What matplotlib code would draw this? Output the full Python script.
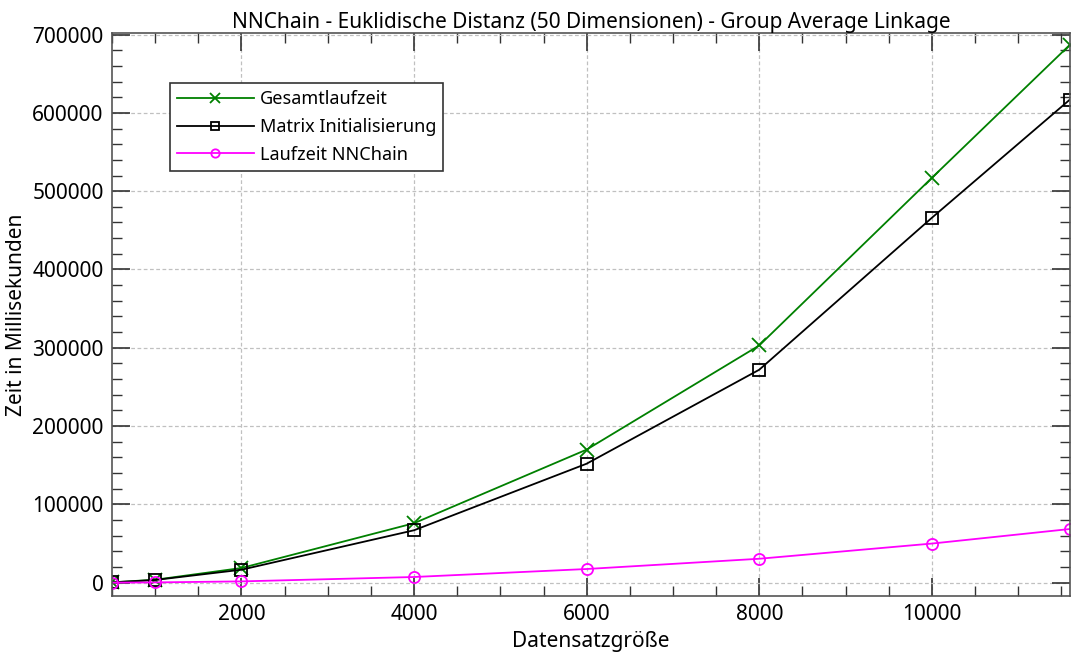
import matplotlib
matplotlib.use('Agg')
import matplotlib.pyplot as plt
from matplotlib.ticker import MultipleLocator

plt.rcParams['font.family'] = ['Noto Sans', 'DejaVu Sans']

# Laufzeiten in Millisekunden je Datensatzgroesse
groessen = [500, 1000, 2000, 4000, 6000, 8000, 10000, 11600]
gesamt = [500, 3800, 18800, 76000, 170000, 303000, 517000, 687000]
matrix = [400, 3500, 16600, 67000, 152000, 272000, 466000, 617000]
nnchain = [100, 400, 1700, 7300, 17500, 30600, 50000, 68600]

fig = plt.figure(figsize=(10.71, 6.57), dpi=100)
ax = fig.add_axes([0.1046, 0.0928, 0.8944, 0.857])

ax.plot(groessen, gesamt, '-x', color='#008000', lw=1.3, ms=9.5, mew=1.3,
        label='Gesamtlaufzeit')
ax.plot(groessen, matrix, '-s', color='black', lw=1.3, ms=8, mew=1.3,
        mfc='none', label='Matrix Initialisierung')
ax.plot(groessen, nnchain, '-o', color='#ff00ff', lw=1.3, ms=8, mew=1.3,
        mfc='none', label='Laufzeit NNChain')

ax.set_xlim(500, 11600)
ax.set_ylim(-17000, 702000)
ax.xaxis.set_major_locator(MultipleLocator(2000))
ax.xaxis.set_minor_locator(MultipleLocator(500))
ax.yaxis.set_major_locator(MultipleLocator(100000))
ax.yaxis.set_minor_locator(MultipleLocator(20000))
ax.tick_params(which='both', direction='in', top=True, right=True,
               labelsize=15, color='#333333')
ax.tick_params(which='major', length=13, width=1.2, pad=6)
ax.tick_params(which='minor', length=7, width=1.0)
for s in ax.spines.values():
    s.set_color('#555555')
    s.set_linewidth(1.2)

ax.grid(True, which='major', linestyle=(0, (3, 2)), color='#c0c0c0', lw=0.9)

ax.set_title('NNChain - Euklidische Distanz (50 Dimensionen) - Group Average Linkage',
             fontsize=15, pad=3)
ax.set_xlabel('Datensatzgröße', fontsize=15, labelpad=4)
ax.set_ylabel('Zeit in Millisekunden', fontsize=15, labelpad=4)

leg = ax.legend(loc='upper left', bbox_to_anchor=(0.0605, 0.911), fontsize=13,
                borderaxespad=0, handlelength=4.25, handletextpad=0.35,
                markerscale=0.75, fancybox=False, framealpha=1,
                edgecolor='#333333', borderpad=0.38, labelspacing=0.55)
leg.get_frame().set_linewidth(1.2)

fig.savefig('out.png', dpi=100)
